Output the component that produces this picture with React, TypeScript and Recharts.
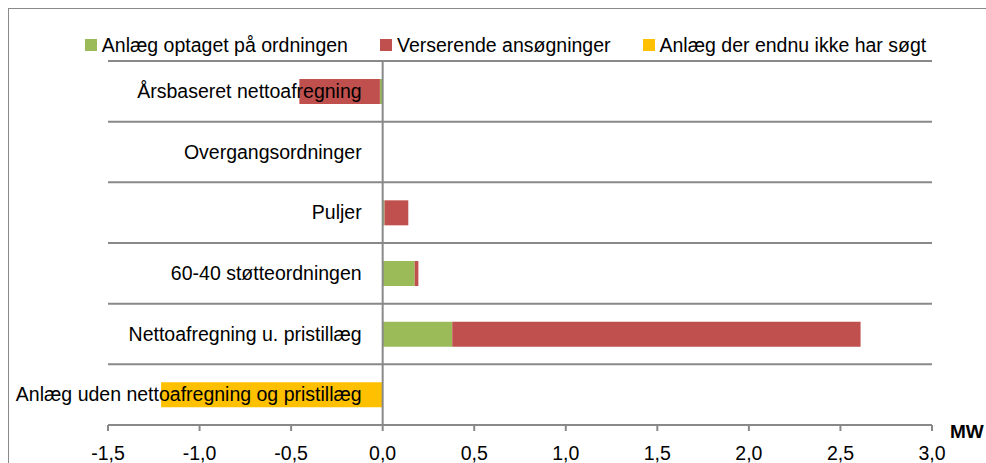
import { BarChart, Bar, XAxis, YAxis, CartesianGrid, Legend, ReferenceLine } from "recharts";

const categories = [
  "Årsbaseret nettoafregning",
  "Overgangsordninger",
  "Puljer",
  "60-40 støtteordningen",
  "Nettoafregning u. pristillæg",
  "Anlæg uden nettoafregning og pristillæg",
];
const optaget = [-0.015, 0, 0.01, 0.175, 0.38, 0];
const verserende = [-0.44, 0, 0.13, 0.02, 2.23, 0];
const endnuIkke = [0, 0, 0, 0, 0, -1.21];
const xTicks = [-1.5, -1.0, -0.5, 0, 0.5, 1.0, 1.5, 2.0, 2.5, 3.0];

const seriesNames = ["Anlæg optaget på ordningen", "Verserende ansøgninger", "Anlæg der endnu ikke har søgt"];
const seriesColors = ["#9BBB59", "#C0504D", "#FFC000"];

const data = categories.map((name, i) => ({
  name,
  optaget: optaget[i],
  verserende: verserende[i],
  endnuIkke: endnuIkke[i],
}));

const W = 977;
const H = 454;
const margin = { top: 52, right: 54, bottom: 0, left: 0 };
const yAxisWidth = 99;
const xMin = -1.5;
const xMax = 3;
const font = "'Liberation Sans', Arial, sans-serif";
const gridColor = "#898989";

// where the value 0 sits, so category labels line up against the zero line
const plotLeft = margin.left + yAxisWidth;
const plotWidth = W - plotLeft - margin.right;
const zeroX = plotLeft + ((0 - xMin) / (xMax - xMin)) * plotWidth;

const fmt = (v: number) => v.toFixed(1).replace(".", ",");

const CategoryTick = (props: any) => (
  <text
    x={zeroX - 21}
    y={props.y}
    dy="0.35em"
    textAnchor="end"
    fontSize={19.5}
    fontFamily={font}
    fill="#000"
  >
    {props.payload.value}
  </text>
);

const LegendContent = () => (
  <div
    style={{
      display: "flex",
      justifyContent: "center",
      gap: 32,
      paddingLeft: 16,
      fontFamily: font,
      fontSize: 19.5,
      lineHeight: "20px",
      color: "#000",
    }}
  >
    {seriesNames.map((n, i) => (
      <div key={n} style={{ display: "flex", alignItems: "center" }}>
        <span style={{ width: 12, height: 12, background: seriesColors[i], marginRight: 5, display: "inline-block" }} />
        <span>{n}</span>
      </div>
    ))}
  </div>
);

const UnitLabel = (props: any) => {
  const vb = props.viewBox;
  return (
    <text x={vb.x + vb.width + 18} y={vb.y + 13} fontSize={19} fontWeight="bold" fontFamily={font} fill="#000">
      MW
    </text>
  );
};

export default function App() {
  return (
    <div style={{ padding: "8px 0 0 8px" }}>
      <style>{"html, body { margin: 0; overflow: hidden; }"}</style>
      <div style={{ width: W, height: H, borderTop: "1px solid #898989", borderLeft: "1px solid #898989" }}>
        <BarChart width={W} height={H} data={data} layout="vertical" margin={margin} stackOffset="sign" barSize={25}>
          <CartesianGrid
            vertical={false}
            stroke={gridColor}
            strokeWidth={2}
            horizontalCoordinatesGenerator={({ offset }: any) =>
              Array.from({ length: categories.length + 1 }, (_, i) => offset.top + (i * offset.height) / categories.length)
            }
          />
          <XAxis
            type="number"
            domain={[xMin, xMax]}
            ticks={xTicks}
            interval={0}
            tickFormatter={fmt}
            height={38}
            tickSize={6}
            tickMargin={15}
            axisLine={{ stroke: gridColor, strokeWidth: 2 }}
            tickLine={{ stroke: gridColor, strokeWidth: 2 }}
            tick={{ fill: "#000", fontSize: 19.5, fontFamily: font }}
            label={<UnitLabel />}
          />
          <Legend content={<LegendContent />} verticalAlign="middle" align="center" wrapperStyle={{ top: 26, left: 0, width: W }} />
          <Bar dataKey="optaget" stackId="a" fill={seriesColors[0]} name={seriesNames[0]} isAnimationActive={false} />
          <Bar dataKey="verserende" stackId="a" fill={seriesColors[1]} name={seriesNames[1]} isAnimationActive={false} />
          <Bar dataKey="endnuIkke" stackId="a" fill={seriesColors[2]} name={seriesNames[2]} isAnimationActive={false} />
          <ReferenceLine x={0} stroke={gridColor} strokeWidth={2} />
          <YAxis
            type="category"
            dataKey="name"
            width={yAxisWidth}
            axisLine={false}
            tickLine={false}
            interval={0}
            tick={<CategoryTick />}
          />
        </BarChart>
      </div>
    </div>
  );
}
